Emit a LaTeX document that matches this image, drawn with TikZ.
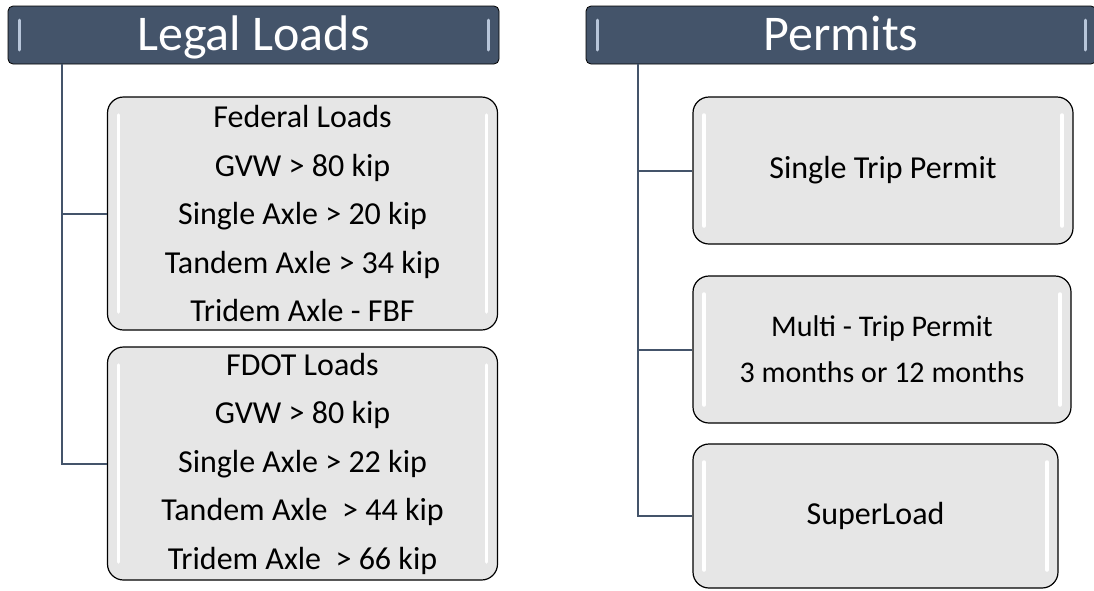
\documentclass[tikz,border=0pt]{standalone}
\usepackage{fontspec}
\setmainfont{Carlito}
\usetikzlibrary{positioning}
\definecolor{slate}{HTML}{44546A}
\definecolor{shine}{HTML}{B8C6DA}
\definecolor{boxgray}{HTML}{E6E6E6}
\begin{document}
\begin{tikzpicture}[x=1pt, y=-1pt,
    header/.style={draw=black, line width=0.8pt, fill=slate, rounded corners=5pt,
        text=white, inner sep=0pt, font=\fontsize{50}{52}\selectfont,
        text height=35pt, text depth=5pt,
        path picture={
            \draw[shine, line width=3pt, line cap=round]
                ([shift={(11pt,-14pt)}]path picture bounding box.north west) --
                ([shift={(11pt,14pt)}]path picture bounding box.south west);
            \draw[shine, line width=3pt, line cap=round]
                ([shift={(-11pt,-14pt)}]path picture bounding box.north east) --
                ([shift={(-11pt,14pt)}]path picture bounding box.south east);}},
    itembox/.style={draw=black, line width=1.2pt, fill=boxgray, rounded corners=16pt,
        inner sep=0pt, align=center, font=\fontsize{32}{48.5}\selectfont,
        path picture={
            \draw[white, line width=3.5pt, line cap=round]
                ([shift={(11pt,-18pt)}]path picture bounding box.north west) --
                ([shift={(11pt,18pt)}]path picture bounding box.south west);
            \draw[white, line width=3.5pt, line cap=round]
                ([shift={(-11pt,-18pt)}]path picture bounding box.north east) --
                ([shift={(-11pt,18pt)}]path picture bounding box.south east);}},
    branch/.style={draw=slate, line width=2pt}]
    \useasboundingbox (0,0) rectangle (1094,590);

    % headers
    \node[header, minimum width=491pt, minimum height=58pt] (legal) at (253.5,35) {Legal Loads};
    \node[header, minimum width=510pt, minimum height=58pt] (permits) at (841,35) {Permits};

    % legal loads
    \node[itembox, minimum width=390pt, minimum height=233pt] (federal) at (302.5,213.5)
        {Federal Loads\\GVW > 80 kip\\Single Axle > 20 kip\\Tandem Axle > 34 kip\\Tridem Axle - FBF};
    \node[itembox, minimum width=390pt, minimum height=233pt] (fdot) at (302.5,463.5)
        {FDOT Loads\\GVW > 80 kip\\Single Axle > 22 kip\\Tandem Axle\ \ > 44 kip\\Tridem Axle\ \ > 66 kip};

    % permits
    \node[itembox, minimum width=380pt, minimum height=147pt] (single) at (883,170.5) {Single Trip Permit};
    \node[itembox, minimum width=378pt, minimum height=147pt, font=\fontsize{30}{46}\selectfont]
        (multi) at (882,349.5) {Multi - Trip Permit\\3 months or 12 months};
    \node[itembox, minimum width=365pt, minimum height=144pt] (super) at (875.5,516) {SuperLoad};

    % tree lines
    \coordinate (lroot) at (62,64);
    \coordinate (proot) at (638,64);
    \draw[branch] (lroot) |- (federal.west);
    \draw[branch] (lroot) |- (fdot.west);
    \draw[branch] (proot) |- (single.west);
    \draw[branch] (proot) |- (multi.west);
    \draw[branch] (proot) |- (super.west);
\end{tikzpicture}
\end{document}
